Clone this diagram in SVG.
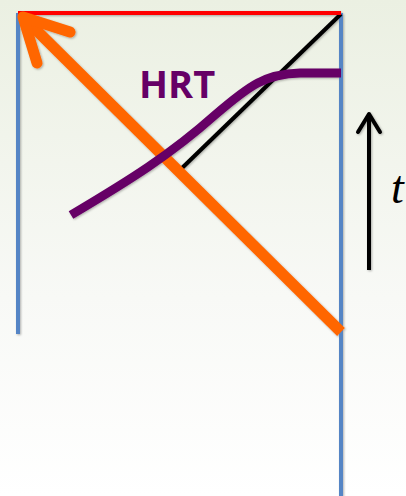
<svg xmlns="http://www.w3.org/2000/svg" width="406" height="496" viewBox="0 0 406 496">
<defs>
<linearGradient id="bg" x1="0" y1="0" x2="0" y2="1">
<stop offset="0" stop-color="#ebf0e2"/>
<stop offset="0.6" stop-color="#f8f9f6"/>
<stop offset="1" stop-color="#ffffff"/>
</linearGradient>
<filter id="sh" x="-10%" y="-10%" width="120%" height="120%">
<feDropShadow dx="1" dy="1" stdDeviation="1" flood-color="#000" flood-opacity="0.3"/>
</filter>
<style>
.blue{stroke:#5585c5;stroke-width:4;fill:none}
.red{stroke:#ff0000;stroke-width:4;fill:none}
.orange{stroke:#ff6600;stroke-width:11;fill:none}
.purple{stroke:#660066;stroke-width:9;fill:none}
.blk{stroke:#000;fill:none}
</style>
</defs>
<rect width="406" height="496" fill="url(#bg)"/>
<g id="connectors" filter="url(#sh)">
<line class="blue" x1="18" y1="13" x2="18" y2="334"/>
<line class="blue" x1="341" y1="13" x2="341" y2="496"/>
<line class="blk" x1="341" y1="14" x2="182" y2="168" stroke-width="4"/>
<line class="red" x1="18" y1="13" x2="341" y2="13"/>
<path class="orange" d="M341,332 L23,17"/>
<path class="orange" d="M70,32 L23,17 L37,63" stroke-linecap="round" stroke-linejoin="round"/>
<path class="purple" d="M71,215 C130,180 170,155 215,115 C250,85 265,74 300,73 L341,73"/>
<path class="blk" d="M369,270 L369,114" stroke-width="4"/>
<path class="blk" d="M358,132 L369,114 L380,132" stroke-width="4" stroke-linecap="round" stroke-linejoin="round"/>
</g>
<g id="hrt"><text x="139" y="98" font-family="Open Sans, Lato, sans-serif" font-weight="bold" font-size="38" fill="#660066">HRT</text></g>
<g id="t"><text x="391" y="203" font-family="Liberation Serif, serif" font-style="italic" font-size="46" fill="#000">t</text></g>
</svg>
